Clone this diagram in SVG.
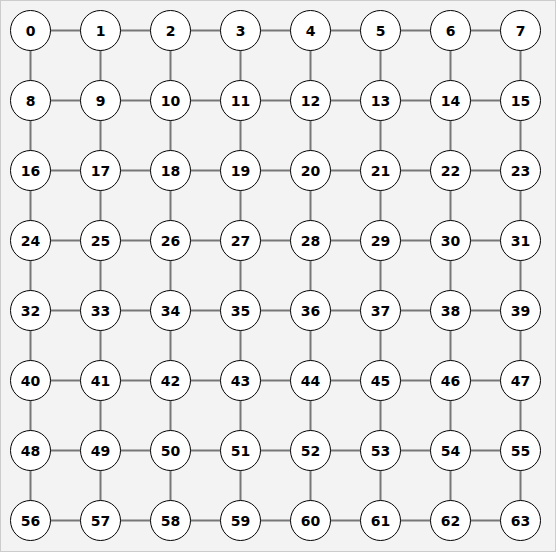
<svg xmlns="http://www.w3.org/2000/svg" width="556" height="552" viewBox="0 0 556 552">
<style>
.e{stroke:#777;stroke-width:2;fill:none}
.n circle{fill:#fff;stroke:#000;stroke-width:1}
.n text{font-family:"DejaVu Sans",sans-serif;font-weight:bold;font-size:14px;text-anchor:middle;dominant-baseline:central;fill:#000}
</style>
<rect x="0.5" y="0.5" width="555" height="551" fill="#f3f3f3" stroke="#ccc" stroke-width="1"/>
<g id="edges" class="e">
<path d="M30.5 30.5H520.5M30.5 100.5H520.5M30.5 170.5H520.5M30.5 240.5H520.5M30.5 310.5H520.5M30.5 380.5H520.5M30.5 450.5H520.5M30.5 520.5H520.5"/>
<path d="M30.5 30.5V520.5M100.5 30.5V520.5M170.5 30.5V520.5M240.5 30.5V520.5M310.5 30.5V520.5M380.5 30.5V520.5M450.5 30.5V520.5M520.5 30.5V520.5"/>
</g>
<g id="n0" class="n"><circle cx="30.5" cy="30.5" r="20"/><text x="30.5" y="30.5">0</text></g>
<g id="n1" class="n"><circle cx="100.5" cy="30.5" r="20"/><text x="100.5" y="30.5">1</text></g>
<g id="n2" class="n"><circle cx="170.5" cy="30.5" r="20"/><text x="170.5" y="30.5">2</text></g>
<g id="n3" class="n"><circle cx="240.5" cy="30.5" r="20"/><text x="240.5" y="30.5">3</text></g>
<g id="n4" class="n"><circle cx="310.5" cy="30.5" r="20"/><text x="310.5" y="30.5">4</text></g>
<g id="n5" class="n"><circle cx="380.5" cy="30.5" r="20"/><text x="380.5" y="30.5">5</text></g>
<g id="n6" class="n"><circle cx="450.5" cy="30.5" r="20"/><text x="450.5" y="30.5">6</text></g>
<g id="n7" class="n"><circle cx="520.5" cy="30.5" r="20"/><text x="520.5" y="30.5">7</text></g>
<g id="n8" class="n"><circle cx="30.5" cy="100.5" r="20"/><text x="30.5" y="100.5">8</text></g>
<g id="n9" class="n"><circle cx="100.5" cy="100.5" r="20"/><text x="100.5" y="100.5">9</text></g>
<g id="n10" class="n"><circle cx="170.5" cy="100.5" r="20"/><text x="170.5" y="100.5">10</text></g>
<g id="n11" class="n"><circle cx="240.5" cy="100.5" r="20"/><text x="240.5" y="100.5">11</text></g>
<g id="n12" class="n"><circle cx="310.5" cy="100.5" r="20"/><text x="310.5" y="100.5">12</text></g>
<g id="n13" class="n"><circle cx="380.5" cy="100.5" r="20"/><text x="380.5" y="100.5">13</text></g>
<g id="n14" class="n"><circle cx="450.5" cy="100.5" r="20"/><text x="450.5" y="100.5">14</text></g>
<g id="n15" class="n"><circle cx="520.5" cy="100.5" r="20"/><text x="520.5" y="100.5">15</text></g>
<g id="n16" class="n"><circle cx="30.5" cy="170.5" r="20"/><text x="30.5" y="170.5">16</text></g>
<g id="n17" class="n"><circle cx="100.5" cy="170.5" r="20"/><text x="100.5" y="170.5">17</text></g>
<g id="n18" class="n"><circle cx="170.5" cy="170.5" r="20"/><text x="170.5" y="170.5">18</text></g>
<g id="n19" class="n"><circle cx="240.5" cy="170.5" r="20"/><text x="240.5" y="170.5">19</text></g>
<g id="n20" class="n"><circle cx="310.5" cy="170.5" r="20"/><text x="310.5" y="170.5">20</text></g>
<g id="n21" class="n"><circle cx="380.5" cy="170.5" r="20"/><text x="380.5" y="170.5">21</text></g>
<g id="n22" class="n"><circle cx="450.5" cy="170.5" r="20"/><text x="450.5" y="170.5">22</text></g>
<g id="n23" class="n"><circle cx="520.5" cy="170.5" r="20"/><text x="520.5" y="170.5">23</text></g>
<g id="n24" class="n"><circle cx="30.5" cy="240.5" r="20"/><text x="30.5" y="240.5">24</text></g>
<g id="n25" class="n"><circle cx="100.5" cy="240.5" r="20"/><text x="100.5" y="240.5">25</text></g>
<g id="n26" class="n"><circle cx="170.5" cy="240.5" r="20"/><text x="170.5" y="240.5">26</text></g>
<g id="n27" class="n"><circle cx="240.5" cy="240.5" r="20"/><text x="240.5" y="240.5">27</text></g>
<g id="n28" class="n"><circle cx="310.5" cy="240.5" r="20"/><text x="310.5" y="240.5">28</text></g>
<g id="n29" class="n"><circle cx="380.5" cy="240.5" r="20"/><text x="380.5" y="240.5">29</text></g>
<g id="n30" class="n"><circle cx="450.5" cy="240.5" r="20"/><text x="450.5" y="240.5">30</text></g>
<g id="n31" class="n"><circle cx="520.5" cy="240.5" r="20"/><text x="520.5" y="240.5">31</text></g>
<g id="n32" class="n"><circle cx="30.5" cy="310.5" r="20"/><text x="30.5" y="310.5">32</text></g>
<g id="n33" class="n"><circle cx="100.5" cy="310.5" r="20"/><text x="100.5" y="310.5">33</text></g>
<g id="n34" class="n"><circle cx="170.5" cy="310.5" r="20"/><text x="170.5" y="310.5">34</text></g>
<g id="n35" class="n"><circle cx="240.5" cy="310.5" r="20"/><text x="240.5" y="310.5">35</text></g>
<g id="n36" class="n"><circle cx="310.5" cy="310.5" r="20"/><text x="310.5" y="310.5">36</text></g>
<g id="n37" class="n"><circle cx="380.5" cy="310.5" r="20"/><text x="380.5" y="310.5">37</text></g>
<g id="n38" class="n"><circle cx="450.5" cy="310.5" r="20"/><text x="450.5" y="310.5">38</text></g>
<g id="n39" class="n"><circle cx="520.5" cy="310.5" r="20"/><text x="520.5" y="310.5">39</text></g>
<g id="n40" class="n"><circle cx="30.5" cy="380.5" r="20"/><text x="30.5" y="380.5">40</text></g>
<g id="n41" class="n"><circle cx="100.5" cy="380.5" r="20"/><text x="100.5" y="380.5">41</text></g>
<g id="n42" class="n"><circle cx="170.5" cy="380.5" r="20"/><text x="170.5" y="380.5">42</text></g>
<g id="n43" class="n"><circle cx="240.5" cy="380.5" r="20"/><text x="240.5" y="380.5">43</text></g>
<g id="n44" class="n"><circle cx="310.5" cy="380.5" r="20"/><text x="310.5" y="380.5">44</text></g>
<g id="n45" class="n"><circle cx="380.5" cy="380.5" r="20"/><text x="380.5" y="380.5">45</text></g>
<g id="n46" class="n"><circle cx="450.5" cy="380.5" r="20"/><text x="450.5" y="380.5">46</text></g>
<g id="n47" class="n"><circle cx="520.5" cy="380.5" r="20"/><text x="520.5" y="380.5">47</text></g>
<g id="n48" class="n"><circle cx="30.5" cy="450.5" r="20"/><text x="30.5" y="450.5">48</text></g>
<g id="n49" class="n"><circle cx="100.5" cy="450.5" r="20"/><text x="100.5" y="450.5">49</text></g>
<g id="n50" class="n"><circle cx="170.5" cy="450.5" r="20"/><text x="170.5" y="450.5">50</text></g>
<g id="n51" class="n"><circle cx="240.5" cy="450.5" r="20"/><text x="240.5" y="450.5">51</text></g>
<g id="n52" class="n"><circle cx="310.5" cy="450.5" r="20"/><text x="310.5" y="450.5">52</text></g>
<g id="n53" class="n"><circle cx="380.5" cy="450.5" r="20"/><text x="380.5" y="450.5">53</text></g>
<g id="n54" class="n"><circle cx="450.5" cy="450.5" r="20"/><text x="450.5" y="450.5">54</text></g>
<g id="n55" class="n"><circle cx="520.5" cy="450.5" r="20"/><text x="520.5" y="450.5">55</text></g>
<g id="n56" class="n"><circle cx="30.5" cy="520.5" r="20"/><text x="30.5" y="520.5">56</text></g>
<g id="n57" class="n"><circle cx="100.5" cy="520.5" r="20"/><text x="100.5" y="520.5">57</text></g>
<g id="n58" class="n"><circle cx="170.5" cy="520.5" r="20"/><text x="170.5" y="520.5">58</text></g>
<g id="n59" class="n"><circle cx="240.5" cy="520.5" r="20"/><text x="240.5" y="520.5">59</text></g>
<g id="n60" class="n"><circle cx="310.5" cy="520.5" r="20"/><text x="310.5" y="520.5">60</text></g>
<g id="n61" class="n"><circle cx="380.5" cy="520.5" r="20"/><text x="380.5" y="520.5">61</text></g>
<g id="n62" class="n"><circle cx="450.5" cy="520.5" r="20"/><text x="450.5" y="520.5">62</text></g>
<g id="n63" class="n"><circle cx="520.5" cy="520.5" r="20"/><text x="520.5" y="520.5">63</text></g>
</svg>
